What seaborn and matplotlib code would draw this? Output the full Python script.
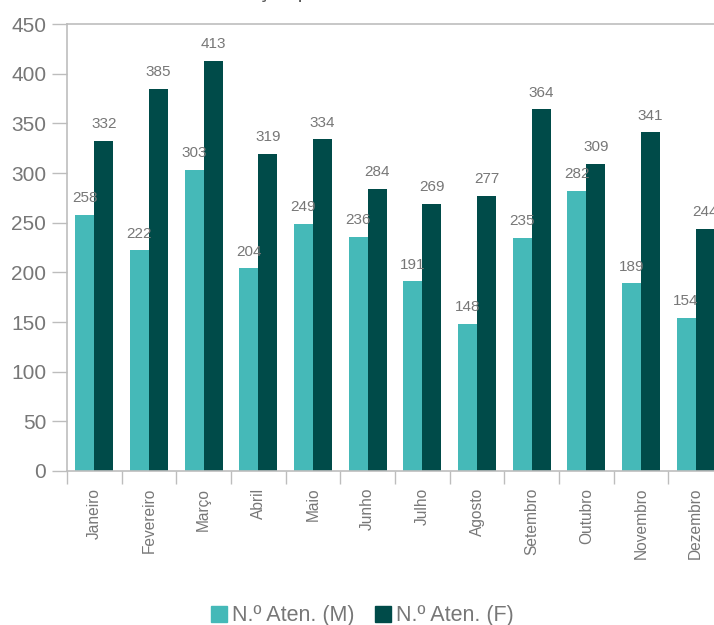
import matplotlib
matplotlib.use("Agg")
import matplotlib.pyplot as plt
from matplotlib.lines import Line2D
import numpy as np
import pandas as pd
import seaborn as sns

months = ["Janeiro", "Fevereiro", "Março", "Abril", "Maio", "Junho",
          "Julho", "Agosto", "Setembro", "Outubro", "Novembro", "Dezembro"]
aten_m = [258, 222, 303, 204, 249, 236, 191, 148, 235, 282, 189, 154]
aten_f = [332, 385, 413, 319, 334, 284, 269, 277, 364, 309, 341, 244]
series_names = ["N.º Aten. (M)", "N.º Aten. (F)"]
palette = ["#45B9B8", "#004B49"]
y_ticks = list(range(0, 451, 50))

df = pd.DataFrame({
    "Mês": months * 2,
    "Valor": aten_m + aten_f,
    "Série": [series_names[0]] * len(months) + [series_names[1]] * len(months),
})

sns.set_theme(style="white")
plt.rcParams["font.family"] = ["Liberation Sans", "DejaVu Sans"]

text_gray = "#777777"
line_gray = "#BDBDBD"

fig = plt.figure(figsize=(7.14, 6.25), dpi=100)
ax = fig.add_axes([67 / 714, 1 - 471 / 625, 656 / 714, 447 / 625])

sns.barplot(data=df, x="Mês", y="Valor", hue="Série", order=months,
            hue_order=series_names, palette=palette, width=0.7,
            saturation=1, ax=ax, legend=False, linewidth=0,
            edgecolor="none")

for container in ax.containers:
    ax.bar_label(container, padding=7, fontsize=11, color=text_gray)

ax.set_xlim(-0.5, len(months) - 0.5)
ax.set_ylim(0, 450)
ax.set_yticks(y_ticks)
ax.set_xlabel("")
ax.set_ylabel("")

ax.tick_params(axis="y", which="major", direction="out", length=11,
               width=1, color=line_gray, labelsize=15, labelcolor=text_gray,
               pad=4, left=True)
ax.set_xticks(range(len(months)))
ax.set_xticklabels(months, rotation=90, fontsize=11.2, color=text_gray,
                   va="top", ha="center")
ax.tick_params(axis="x", which="major", length=0, pad=12)
ax.set_xticks(np.arange(-0.5, len(months) + 0.5, 1), minor=True)
ax.tick_params(axis="x", which="minor", direction="out", length=9,
               width=1, color=line_gray, bottom=True)

for side in ["left", "bottom", "top"]:
    ax.spines[side].set_visible(True)
    ax.spines[side].set_color(line_gray)
    ax.spines[side].set_linewidth(1.2)
ax.spines["right"].set_visible(False)
ax.grid(False)

fig.text(183 / 714, 1 + 2 / 625, "Distribuição por mês", fontsize=15,
         color="#595959", ha="left", va="baseline")

handles = [Line2D([0], [0], marker="s", linestyle="none", markersize=11,
                  markerfacecolor=c, markeredgecolor=c) for c in palette]
fig.legend(handles, series_names, loc="center", ncol=2,
           bbox_to_anchor=(361 / 714, 1 - 616 / 625), frameon=False,
           fontsize=15.5, labelcolor=text_gray, handletextpad=0.1,
           columnspacing=0.8, handlelength=1.0)

fig.savefig("out.png", dpi=100)
